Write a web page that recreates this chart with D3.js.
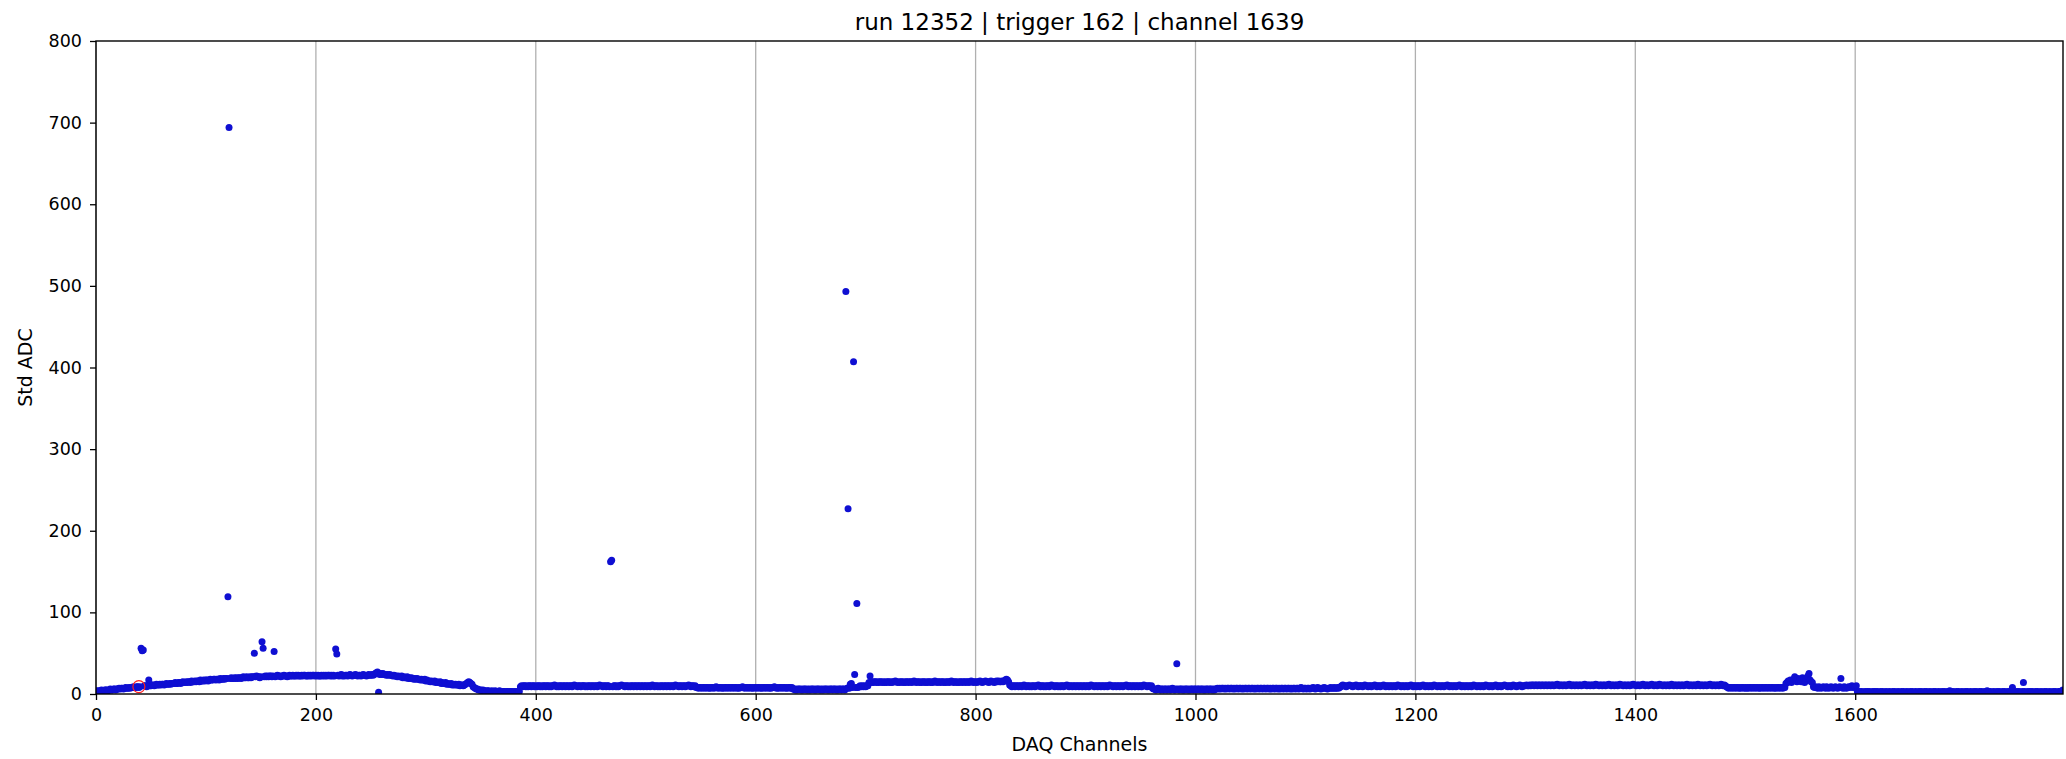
<!DOCTYPE html>
<html>
<head>
<meta charset="utf-8">
<script src="https://cdn.jsdelivr.net/npm/d3@7"></script>
<style>
	body { margin: 0; background: #fff; }
	text { font-family: "DejaVu Sans", sans-serif; fill: #000; }
	.tick text { font-size: 17.5px; }
	.tick line { stroke: #000; stroke-width: 1.3; }
	.domain { display: none; }
</style>
</head>
<body>
<div id="chart"></div>
<script>
// std ADC per DAQ channel (baseline band), rows of 50 channels
var baseline = [
	3,4,3,4,4,5,4,4,5,5, 5,4,5,6,5,5,6,6,5,6, 6,7,6,7,7,6,7,8,7,7, 8,7,8,8,9,8,8,9,9,8, 9,9,10,9,10,10,9,10,11,10,
	10,11,11,10,11,12,11,11,12,11, 12,12,11,12,13,12,12,13,12,13, 13,13,14,13,13,14,14,13,14,15, 14,14,15,14,15,15,14,16,15,15, 16,15,16,16,15,17,16,16,17,16,
	17,17,16,17,18,17,17,18,18,17, 18,18,17,19,18,18,19,18,19,19, 18,19,19,20,19,19,20,19,20,19, 20,20,19,20,21,20,20,21,20,20, 21,20,21,21,20,21,22,21,21,20,
	21,22,21,21,22,21,22,21,22,22, 21,22,22,21,22,23,22,22,21,22, 22,23,22,22,21,22,23,22,22,23, 22,22,23,22,23,22,22,23,22,23, 23,22,22,23,22,23,22,23,23,22,
	23,22,23,22,22,23,22,23,22,23, 22,23,23,22,23,22,23,22,23,22, 23,22,23,24,22,23,22,23,23,22, 23,24,23,22,23,23,24,23,22,23, 23,22,23,24,23,23,22,23,24,23,
	23,24,23,24,25,26,27,25,24,25, 24,25,24,24,23,24,23,24,23,23, 22,23,22,22,21,22,21,21,22,20, 21,20,20,21,19,20,19,20,19,18, 19,18,19,18,18,17,18,17,17,18,
	16,17,16,16,15,16,15,15,16,14, 15,14,14,15,13,14,13,13,14,12, 13,12,12,13,11,12,11,12,11,11, 12,10,11,11,10,11,12,13,14,15, 14,13,12,9,8,7,6,6,5,5,
	5,4,5,4,4,3,4,4,3,3, 4,3,3,4,3,3,3,4,3,3, 3,3,2,3,3,2,3,3,2,3, 2,3,2,3,2,3,9,10,9,10, 10,9,10,9,10,10,9,10,10,9,
	10,9,10,10,9,10,9,10,10,9, 10,10,9,10,9,10,10,11,10,9, 10,9,10,10,9,10,10,9,10,10, 9,10,10,9,10,11,10,10,9,10, 10,9,10,10,10,9,10,9,10,10,
	9,10,10,9,10,10,9,10,11,10, 10,9,10,10,9,10,10,9,10,10, 9,10,10,9,10,9,10,10,11,10, 10,9,10,10,9,10,9,10,10,9, 10,10,9,10,10,9,10,10,9,10,
	10,9,10,10,9,10,11,10,9,10, 10,9,10,9,10,10,9,10,10,9, 10,10,9,10,10,9,10,11,10,10, 9,10,10,9,10,10,9,10,10,11, 10,9,10,10,9,10,8,8,7,8,
	8,7,8,8,7,8,8,7,8,7, 8,8,7,8,9,8,7,8,8,7, 8,7,8,8,7,8,8,7,8,8, 7,8,8,7,8,7,8,8,9,8, 7,8,8,7,8,8,7,8,7,8,
	8,7,8,8,7,8,7,8,8,7, 8,8,7,8,7,8,8,9,8,7, 8,7,8,8,7,8,8,7,8,7, 8,8,7,8,6,6,5,6,5,6, 6,5,6,5,6,6,5,6,5,6,
	5,6,6,5,6,5,6,6,5,6, 5,6,5,6,6,5,6,5,6,6, 5,6,6,5,6,5,6,6,5,6, 6,5,6,7,6,7,12,7,8,7, 9,8,9,8,9,10,9,10,9,10,
	9,10,10,14,15,14,15,14,15,15, 14,15,14,15,15,14,15,14,15,14, 15,15,14,15,14,15,15,16,15,14, 15,14,15,15,14,15,14,15,15,14, 15,15,14,15,16,15,14,15,15,14,
	15,14,15,15,14,15,14,15,15,14, 15,14,15,16,15,14,15,15,14,15, 15,14,15,14,15,15,14,15,16,15, 14,15,15,14,15,14,15,15,14,15, 15,14,15,15,14,15,16,15,14,15,
	15,14,15,15,16,15,14,15,15,16, 15,15,14,15,16,15,15,14,15,16, 15,16,15,15,16,15,16,17,18,17, 15,11,10,9,10,10,9,10,10,9, 10,10,9,10,11,10,9,10,10,9,
	10,9,10,10,9,10,10,11,10,9, 10,10,9,10,9,10,10,9,10,11, 10,10,9,10,10,9,10,9,10,10, 9,10,10,11,10,9,10,10,9,10, 10,9,10,10,9,10,10,9,10,10,
	9,10,10,9,10,11,10,10,9,10, 10,9,10,10,9,10,10,9,10,10, 9,10,11,10,10,9,10,10,9,10, 10,9,10,10,9,10,10,11,10,9, 10,10,9,10,10,9,10,10,9,10,
	10,9,10,11,10,10,9,10,10,9, 10,7,6,6,5,6,7,6,5,6, 6,5,6,6,5,6,6,5,6,7, 6,5,6,5,6,5,6,6,5,6, 5,6,6,5,6,5,6,6,5,6,
	6,5,6,6,5,6,6,5,6,5, 6,6,5,6,6,5,6,5,6,6, 7,6,7,6,7,7,6,7,6,7, 7,6,7,7,6,7,6,7,7,6, 7,7,6,7,6,7,7,6,7,7,
	6,7,7,6,7,6,7,7,6,7, 7,6,7,7,6,7,7,6,7,6, 7,7,6,7,7,6,7,6,7,7, 6,7,7,6,7,7,6,7,6,7, 7,6,7,7,6,7,8,7,6,7,
	7,6,7,7,6,7,7,8,7,6, 7,8,7,7,6,7,7,8,7,7, 6,7,7,8,7,7,8,7,7,8, 7,8,9,10,11,10,10,9,10,10, 11,10,10,9,10,10,11,10,9,10,
	10,10,9,10,11,10,10,9,10,10, 9,10,10,11,10,9,10,10,9,10, 10,11,10,9,10,10,9,10,10,9, 10,10,9,10,11,10,10,9,10,10, 9,10,10,9,10,10,11,10,9,10,
	10,9,10,10,9,10,10,11,10,9, 10,10,9,10,10,9,10,11,10,10, 9,10,10,9,10,10,9,10,10,11, 10,9,10,10,9,10,10,9,10,10, 11,10,9,10,10,9,10,10,9,10,
	10,9,10,11,10,10,9,10,10,9, 10,10,9,10,11,10,10,9,10,10, 9,10,10,11,10,9,10,10,9,10, 10,11,10,10,9,10,10,9,10,11, 10,10,9,10,10,11,10,9,10,10,
	10,11,10,10,11,10,11,11,10,11, 11,10,11,11,10,11,11,10,11,11, 10,11,11,10,11,11,10,11,11,12, 11,10,11,11,10,11,11,10,11,11, 12,11,10,11,11,10,11,11,10,11,
	11,10,11,11,12,11,10,11,11,10, 11,11,10,11,12,11,11,10,11,11, 10,11,11,10,11,11,12,11,10,11, 11,10,11,11,10,11,12,11,11,10, 11,11,10,11,11,10,11,11,12,11,
	11,10,11,11,10,11,11,12,11,10, 11,11,10,11,11,12,11,10,11,11, 10,11,12,11,11,10,11,11,10,11, 11,10,11,12,11,10,11,11,10,11, 11,10,11,11,10,11,11,12,11,10,
	11,11,10,11,11,10,11,12,11,10, 11,11,10,11,11,10,11,11,12,11, 10,11,11,10,11,11,10,11,12,11, 10,11,10,9,8,7,8,8,7,8, 8,7,8,8,7,8,7,8,8,7,
	8,7,8,7,8,8,7,8,8,7, 8,8,7,8,7,8,8,7,8,8, 7,8,8,7,8,8,7,8,7,8, 8,7,8,8,7,8,8,13,14,16, 15,17,14,16,18,21,17,15,19,16,
	18,15,20,17,14,16,19,22,25,17, 15,14,9,8,9,8,7,9,8,7, 8,9,8,7,9,8,7,8,9,8, 7,8,9,8,7,8,9,9,8,7, 9,8,7,8,9,8,9,10,8,9,
	9,10,3,2,3,2,3,2,2,3, 2,3,2,3,2,2,3,2,3,2, 3,2,2,3,2,3,2,2,3,2, 2,3,2,2,3,2,3,2,2,3, 2,2,3,2,3,2,2,3,2,2,
	3,2,3,2,2,3,2,2,3,2, 3,2,2,3,2,3,2,2,3,2, 2,3,2,3,2,2,3,2,2,3, 2,3,2,2,3,2,4,3,2,3, 2,2,3,2,3,2,2,3,2,2,
	3,2,3,2,2,3,2,2,3,2, 3,2,2,3,2,3,2,2,3,2, 4,3,2,3,2,2,3,2,2,3, 2,3,2,2,3,2,3,2,2,3, 2,3,2,8,3,2,2,3,2,3,
	2,2,3,2,3,2,2,3,2,3, 2,3,2,2,3,2,3,2,2,3, 2,2,3,2,3,2,2,3,2,2, 3,2,3,2,2,3,2,3,4,5
];

// noisy channels that stick out of the band
var spikeChannels = [41, 42, 43, 48, 120, 121, 144, 151, 152, 162, 218, 219, 257, 468, 469, 682, 684, 687, 689, 690, 692, 704, 983, 1587, 1753];
var spikeValues   = [56, 53, 54, 17, 119, 694, 50, 64, 56, 52, 55, 49, 2, 162, 164, 493, 227, 13, 407, 24, 111, 22, 37, 19, 14];

// the red open circle
var markChannel = [39];
var markValue = [9];

var xTicks = [0, 200, 400, 600, 800, 1000, 1200, 1400, 1600];
var yTicks = [0, 100, 200, 300, 400, 500, 600, 700, 800];
var xMax = 1789, yMax = 800;

var width = 2066, height = 759;
var margin = {left: 96, right: 3, top: 41, bottom: 65};

var svg = d3.select('#chart').append('svg')
	.attr('width', width).attr('height', height);

var x = d3.scaleLinear().domain([0, xMax]).range([margin.left, width - margin.right]);
var y = d3.scaleLinear().domain([0, yMax]).range([height - margin.bottom, margin.top]);

// join baseline with spikes
var spikeMap = {};
spikeChannels.forEach(function(c, i){ spikeMap[c] = spikeValues[i]; });
var dados = baseline.map(function(v, i){
	return {ch: i, v: spikeMap[i] !== undefined ? spikeMap[i] : v};
});

svg.append('defs').append('clipPath').attr('id', 'plotclip')
	.append('rect')
	.attr('x', x(0)).attr('y', y(yMax))
	.attr('width', x(xMax) - x(0)).attr('height', y(0) - y(yMax));

// vertical grid
svg.append('g').selectAll('line').data(xTicks).enter()
	.append('line')
	.attr('x1', function(d){ return x(d); }).attr('x2', function(d){ return x(d); })
	.attr('y1', y(0)).attr('y2', y(yMax))
	.attr('stroke', '#b0b0b0').attr('stroke-width', 1.3);

var plot = svg.append('g').attr('clip-path', 'url(#plotclip)');

plot.selectAll('.pt').data(dados).enter()
	.append('circle')
	.attr('class', 'pt')
	.attr('cx', function(d){ return x(d.ch); })
	.attr('cy', function(d){ return y(d.v); })
	.attr('r', 3.5)
	.attr('fill', '#0f0fd2');

plot.selectAll('.mark').data(markChannel).enter()
	.append('circle')
	.attr('class', 'mark')
	.attr('cx', function(d){ return x(d); })
	.attr('cy', function(d, i){ return y(markValue[i]); })
	.attr('r', 6)
	.attr('fill', 'none')
	.attr('stroke', '#ff2020')
	.attr('stroke-width', 1.2);

// axes
svg.append('g')
	.attr('transform', 'translate(0,' + y(0) + ')')
	.call(d3.axisBottom(x).tickValues(xTicks).tickSize(6).tickPadding(9).tickFormat(d3.format('d')));

svg.append('g')
	.attr('transform', 'translate(' + x(0) + ',0)')
	.call(d3.axisLeft(y).tickValues(yTicks).tickSize(6).tickPadding(8).tickFormat(d3.format('d')));

// frame
svg.append('rect')
	.attr('x', x(0)).attr('y', y(yMax))
	.attr('width', x(xMax) - x(0)).attr('height', y(0) - y(yMax))
	.attr('fill', 'none').attr('stroke', '#000').attr('stroke-width', 1.4);

svg.append('text')
	.attr('x', (x(0) + x(xMax)) / 2).attr('y', 30)
	.attr('text-anchor', 'middle')
	.style('font-size', '23px')
	.text('run 12352 | trigger 162 | channel 1639');

svg.append('text')
	.attr('x', (x(0) + x(xMax)) / 2).attr('y', 751)
	.attr('text-anchor', 'middle')
	.style('font-size', '19px')
	.text('DAQ Channels');

svg.append('text')
	.attr('transform', 'translate(32,' + ((y(0) + y(yMax)) / 2) + ') rotate(-90)')
	.attr('text-anchor', 'middle')
	.style('font-size', '19px')
	.text('Std ADC');
</script>
</body>
</html>
